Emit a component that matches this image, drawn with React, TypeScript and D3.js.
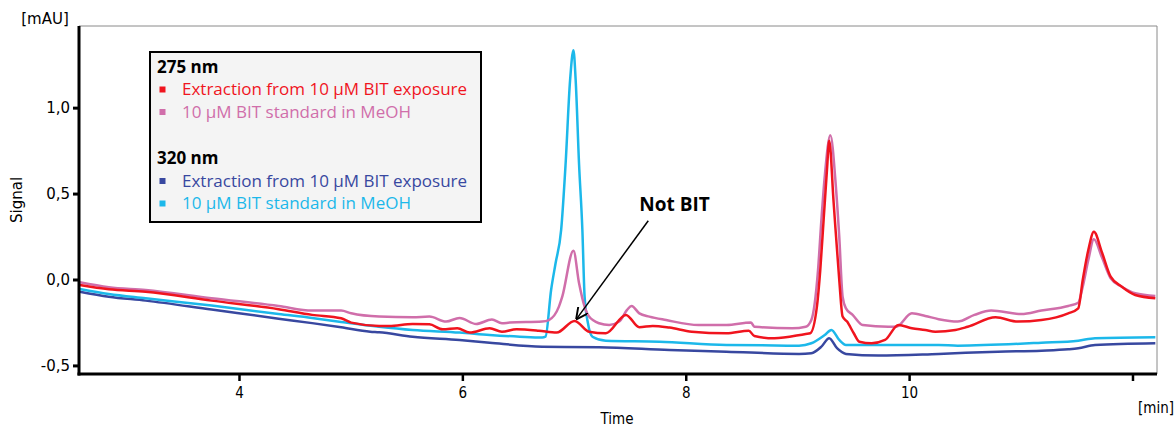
import React from "react";
import * as d3 from "d3";

const W = 1176;
const H = 429;

// time [min], signal [mAU]
const std275: [number, number][] = [
  [2.57, -0.013], [2.83, -0.042], [3.16, -0.058], [3.75, -0.106], [4.35, -0.151], [4.65, -0.178],
  [4.91, -0.178], [5.0, -0.194], [5.25, -0.213], [5.55, -0.217], [5.7, -0.213], [5.85, -0.242],
  [5.97, -0.221], [6.12, -0.256], [6.26, -0.23], [6.35, -0.252], [6.42, -0.248], [6.71, -0.242],
  [6.77, -0.233], [6.86, -0.155], [6.89, -0.097], [6.99, 0.17], [7.04, -0.017], [7.09, -0.155],
  [7.13, -0.213], [7.22, -0.252], [7.31, -0.262], [7.4, -0.242], [7.47, -0.174], [7.51, -0.151],
  [7.58, -0.194], [7.67, -0.213], [7.82, -0.233], [8.11, -0.262], [8.36, -0.262], [8.58, -0.248],
  [8.61, -0.272], [8.95, -0.281], [9.07, -0.272], [9.12, -0.233], [9.18, 0.058], [9.21, 0.349],
  [9.24, 0.601], [9.29, 0.843], [9.34, 0.542], [9.37, 0.252], [9.4, -0.097], [9.43, -0.165],
  [9.49, -0.203], [9.58, -0.262], [9.81, -0.272], [9.88, -0.272], [10.02, -0.194], [10.14, -0.209],
  [10.26, -0.228], [10.43, -0.242], [10.58, -0.203], [10.73, -0.178], [11.0, -0.198], [11.18, -0.178],
  [11.42, -0.151], [11.51, -0.132], [11.55, -0.039], [11.6, 0.116], [11.65, 0.237], [11.72, 0.135],
  [11.8, 0.01], [11.9, -0.039], [12.02, -0.077], [12.2, -0.093],
];

const ext275: [number, number][] = [
  [2.57, -0.029], [2.83, -0.054], [3.16, -0.068], [3.75, -0.12], [4.35, -0.17], [4.65, -0.203],
  [4.91, -0.223], [5.0, -0.248], [5.25, -0.267], [5.34, -0.267], [5.55, -0.256], [5.7, -0.258],
  [5.82, -0.287], [5.95, -0.281], [6.06, -0.306], [6.24, -0.281], [6.35, -0.301], [6.48, -0.287],
  [6.68, -0.295], [6.84, -0.306], [7.0, -0.238], [7.13, -0.301], [7.28, -0.31], [7.46, -0.203],
  [7.58, -0.275], [7.7, -0.267], [7.85, -0.277], [8.05, -0.301], [8.36, -0.31], [8.56, -0.295],
  [8.61, -0.326], [8.79, -0.339], [9.07, -0.314], [9.11, -0.31], [9.17, -0.155], [9.2, 0.058],
  [9.23, 0.349], [9.26, 0.64], [9.28, 0.81], [9.32, 0.448], [9.37, 0.0], [9.4, -0.213],
  [9.44, -0.242], [9.5, -0.31], [9.55, -0.359], [9.66, -0.368], [9.78, -0.349], [9.9, -0.262],
  [10.02, -0.281], [10.14, -0.291], [10.23, -0.301], [10.41, -0.291], [10.52, -0.272], [10.77, -0.217],
  [10.97, -0.242], [11.18, -0.233], [11.42, -0.194], [11.51, -0.165], [11.55, 0.0], [11.6, 0.174],
  [11.65, 0.281], [11.72, 0.165], [11.8, 0.019], [11.9, -0.039], [12.02, -0.087], [12.2, -0.106],
];

const std320: [number, number][] = [
  [2.57, -0.052], [2.83, -0.081], [3.16, -0.106], [3.75, -0.149], [4.35, -0.198], [4.65, -0.221],
  [4.91, -0.244], [5.25, -0.272], [5.55, -0.291], [5.97, -0.306], [6.24, -0.32], [6.51, -0.33],
  [6.71, -0.335], [6.74, -0.33], [6.79, -0.058], [6.83, 0.097], [6.88, 0.291], [6.92, 0.678],
  [6.96, 1.163], [6.99, 1.337], [7.01, 1.163], [7.04, 0.678], [7.07, 0.291], [7.09, -0.097],
  [7.12, -0.252], [7.16, -0.33], [7.28, -0.353], [7.76, -0.359], [8.36, -0.378], [9.01, -0.382],
  [9.12, -0.368], [9.24, -0.32], [9.3, -0.291], [9.37, -0.349], [9.43, -0.378], [10.26, -0.378],
  [10.43, -0.382], [11.18, -0.365], [11.51, -0.353], [11.66, -0.339], [12.2, -0.333],
];

const ext320: [number, number][] = [
  [2.57, -0.068], [2.83, -0.097], [3.16, -0.12], [3.75, -0.172], [4.35, -0.225], [4.65, -0.251],
  [4.91, -0.275], [5.17, -0.301], [5.25, -0.304], [5.55, -0.33], [5.97, -0.349], [6.24, -0.365],
  [6.71, -0.388], [7.22, -0.391], [7.85, -0.407], [8.36, -0.417], [9.01, -0.43], [9.12, -0.426],
  [9.21, -0.388], [9.28, -0.339], [9.35, -0.397], [9.43, -0.43], [9.72, -0.44], [10.26, -0.43],
  [10.79, -0.417], [11.18, -0.411], [11.42, -0.403], [11.51, -0.397], [11.66, -0.378], [12.2, -0.368],
];

const xTicks = [4, 6, 8, 10, 12];
const xTickLabels = ["4", "6", "8", "10", ""];
const yTicks = [-0.5, 0, 0.5, 1.0];
const yTickLabels = ["-0,5", "0,0", "0,5", "1,0"];

const groups = [
  { title: "275 nm", items: [
    { label: "Extraction from 10 µM BIT exposure", color: "#f0141e" },
    { label: "10 µM BIT standard in MeOH", color: "#d06eaa" },
  ] },
  { title: "320 nm", items: [
    { label: "Extraction from 10 µM BIT exposure", color: "#3848a0" },
    { label: "10 µM BIT standard in MeOH", color: "#1cb8ea" },
  ] },
];

const seriesDraw = [
  { data: ext320, color: "#3848a0" },
  { data: std320, color: "#1cb8ea" },
  { data: std275, color: "#d06eaa" },
  { data: ext275, color: "#f0141e" },
];

export default function App() {
  const left = 79, right = 1157, top = 26, bottom = 374;
  const x = d3.scaleLinear().domain([2.563, 12.215]).range([left, right]);
  const y = d3.scaleLinear().domain([-0.547, 1.478]).range([bottom, top]);
  const line = d3.line<[number, number]>()
    .x((d) => x(d[0]))
    .y((d) => y(d[1]))
    .curve(d3.curveMonotoneX);

  const tickFont = "'DejaVu Sans', Verdana, sans-serif";
  const condFont = "'DejaVu Sans Condensed', 'DejaVu Sans', sans-serif";
  const legFont = "'Open Sans', 'Noto Sans', sans-serif";

  // annotation anchored to data
  const tipX = x(7.02), tipY = y(-0.225);
  const startX = x(7.66), startY = y(0.345);

  let rowY = 67;
  const legendRows: React.ReactNode[] = [];
  groups.forEach((g, gi) => {
    legendRows.push(
      <text key={`t${gi}`} x={157} y={rowY} dy="0.35em" fontFamily={legFont} fontWeight={700} fontSize={17} fill="#000">{g.title}</text>
    );
    rowY += 22.5;
    g.items.forEach((it, ii) => {
      legendRows.push(
        <g key={`i${gi}${ii}`}>
          <rect x={159.5} y={rowY - 3} width={6} height={6} fill={it.color} />
          <text x={182} y={rowY} dy="0.35em" fontFamily={legFont} fontSize={17} fill={it.color}>{it.label}</text>
        </g>
      );
      rowY += 22.5;
    });
    rowY += 24;
  });

  return (
    <svg width={W} height={H} style={{ position: "absolute", left: 0, top: 0, background: "#fff" }}>
      <defs>
        <clipPath id="plotclip">
          <rect x={left} y={top} width={right - left} height={bottom - top} />
        </clipPath>
        <marker id="arrow" viewBox="0 0 10 10" refX="9" refY="5" markerWidth="8" markerHeight="8" orient="auto-start-reverse">
          <path d="M0,0 L10,5 L0,10" fill="none" stroke="#000" strokeWidth={1.6} />
        </marker>
      </defs>
      {/* frame */}
      <line x1={left} x2={right} y1={top} y2={top} stroke="#8a8a8a" strokeWidth={1} />
      <line x1={right} x2={right} y1={top} y2={bottom} stroke="#8a8a8a" strokeWidth={1} />

      <g clipPath="url(#plotclip)">
        {seriesDraw.map((s, i) => (
          <path key={i} d={line(s.data) || ""} fill="none" stroke={s.color} strokeWidth={2.5} strokeLinejoin="round" />
        ))}
      </g>

      {/* axes */}
      <line x1={left} x2={left} y1={top} y2={bottom + 1.5} stroke="#000" strokeWidth={3} />
      <line x1={left - 1.5} x2={right} y1={bottom} y2={bottom} stroke="#000" strokeWidth={3} />
      {yTicks.map((t, i) => (
        <g key={`y${i}`}>
          <line x1={left - 6} x2={left} y1={y(t)} y2={y(t)} stroke="#000" strokeWidth={3} />
          <text x={left - 9} y={y(t)} dy="0.35em" textAnchor="end" fontFamily={tickFont} fontSize={15} fill="#000">{yTickLabels[i]}</text>
        </g>
      ))}
      {xTicks.map((t, i) => (
        <g key={`x${i}`}>
          <line x1={x(t)} x2={x(t)} y1={bottom} y2={bottom + 7} stroke="#000" strokeWidth={2.5} />
          <text x={x(t)} y={bottom + 19} dy="0.35em" textAnchor="middle" fontFamily={condFont} fontSize={15} fill="#000">{xTickLabels[i]}</text>
        </g>
      ))}
      <text x={1156} y={408} dy="0.35em" textAnchor="middle" fontFamily={condFont} fontSize={15} fill="#000">[min]</text>
      <text x={617} y={419} dy="0.35em" textAnchor="middle" fontFamily={condFont} fontSize={15} fill="#000">Time</text>
      <text x={45} y={19} dy="0.35em" textAnchor="middle" fontFamily={tickFont} fontSize={15} fill="#000">[mAU]</text>
      <text transform={`translate(17,200) rotate(-90)`} dy="0.35em" textAnchor="middle" fontFamily={tickFont} fontSize={15} fill="#000">Signal</text>

      {/* legend */}
      <rect x={150} y={52} width={331} height={170} fill="#f4f4f4" stroke="#000" strokeWidth={2} />
      {legendRows}

      {/* annotation */}
      <text x={startX - 9} y={startY - 16} dy="0.35em" fontFamily={legFont} fontWeight={700} fontSize={19} fill="#000">Not BIT</text>
      <line x1={startX} y1={startY} x2={tipX} y2={tipY} stroke="#000" strokeWidth={1.5} markerEnd="url(#arrow)" />
    </svg>
  );
}
